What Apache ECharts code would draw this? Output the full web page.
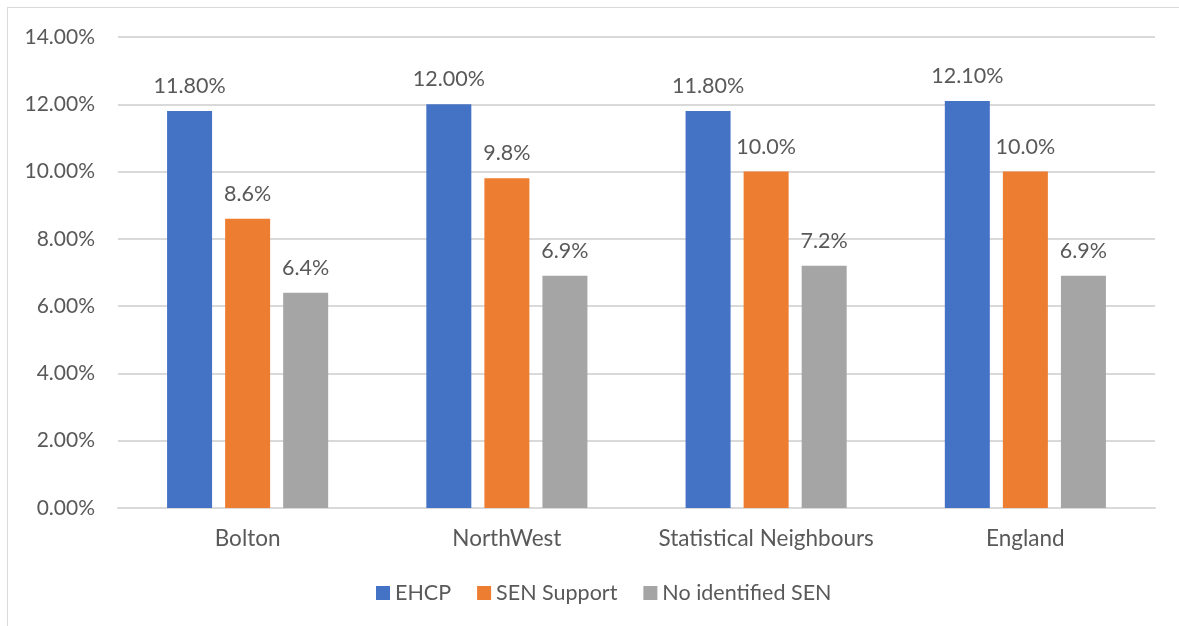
<!DOCTYPE html>
<html>
<head>
<meta charset="utf-8">
<script src="https://cdn.jsdelivr.net/npm/echarts@6/dist/echarts.min.js"></script>
<style>
  html, body { margin: 0; padding: 0; background: #fff; }
  #frame { position: absolute; left: 7px; top: 7px; width: 1180px; height: 630px; border: 1px solid #d9d9d9; box-sizing: border-box; }
  #chart { position: absolute; left: 0; top: 0; width: 1179px; height: 626px; }
</style>
</head>
<body>
<div id="frame"></div>
<div id="chart"></div>
<script>
// Share of pupils by SEN status across comparison areas
const categories = ['Bolton', 'NorthWest', 'Statistical Neighbours', 'England'];
const seriesNames = ['EHCP', 'SEN Support', 'No identified SEN'];
const ehcp = [11.8, 12.0, 11.8, 12.1];
const senSupport = [8.6, 9.8, 10.0, 10.0];
const noSen = [6.4, 6.9, 7.2, 6.9];
const labelDecimals = [2, 1, 1];
const colors = ['#4472c4', '#ed7d31', '#a5a5a5'];

const FONT = 'Lato';
const TEXT = '#595959';

const chart = echarts.init(document.getElementById('chart'), null, { renderer: 'canvas' });

const seriesData = [ehcp, senSupport, noSen];

chart.setOption({
  animation: false,
  textStyle: { fontFamily: FONT },
  grid: { left: 118, right: 24, top: 37, bottom: 118, containLabel: false },
  legend: {
    top: 577,
    left: 371,
    itemWidth: 14,
    itemHeight: 14,
    itemGap: 26,
    icon: 'rect',
    textStyle: { fontFamily: FONT, fontSize: 21.5, color: TEXT },
    data: seriesNames
  },
  xAxis: {
    type: 'category',
    data: categories,
    axisLine: { lineStyle: { color: '#d9d9d9', width: 2 } },
    axisTick: { show: false },
    axisLabel: { fontFamily: FONT, fontSize: 22.5, color: TEXT, margin: 19, interval: 0 }
  },
  yAxis: {
    type: 'value',
    min: 0,
    max: 14,
    interval: 2,
    axisLine: { show: false },
    axisTick: { show: false },
    splitLine: { lineStyle: { color: '#d9d9d9', width: 2 } },
    axisLabel: {
      fontFamily: FONT, fontSize: 21, color: TEXT, margin: 23,
      formatter: v => v.toFixed(2) + '%'
    }
  },
  series: seriesNames.map((name, i) => ({
    name,
    type: 'bar',
    data: seriesData[i],
    barWidth: 45,
    barGap: '29%',
    itemStyle: { color: colors[i] },
    label: {
      show: true,
      position: 'top',
      distance: 14,
      fontFamily: FONT,
      fontSize: 21.5,
      color: TEXT,
      formatter: p => p.value.toFixed(labelDecimals[i]) + '%'
    }
  }))
});
</script>
</body>
</html>
